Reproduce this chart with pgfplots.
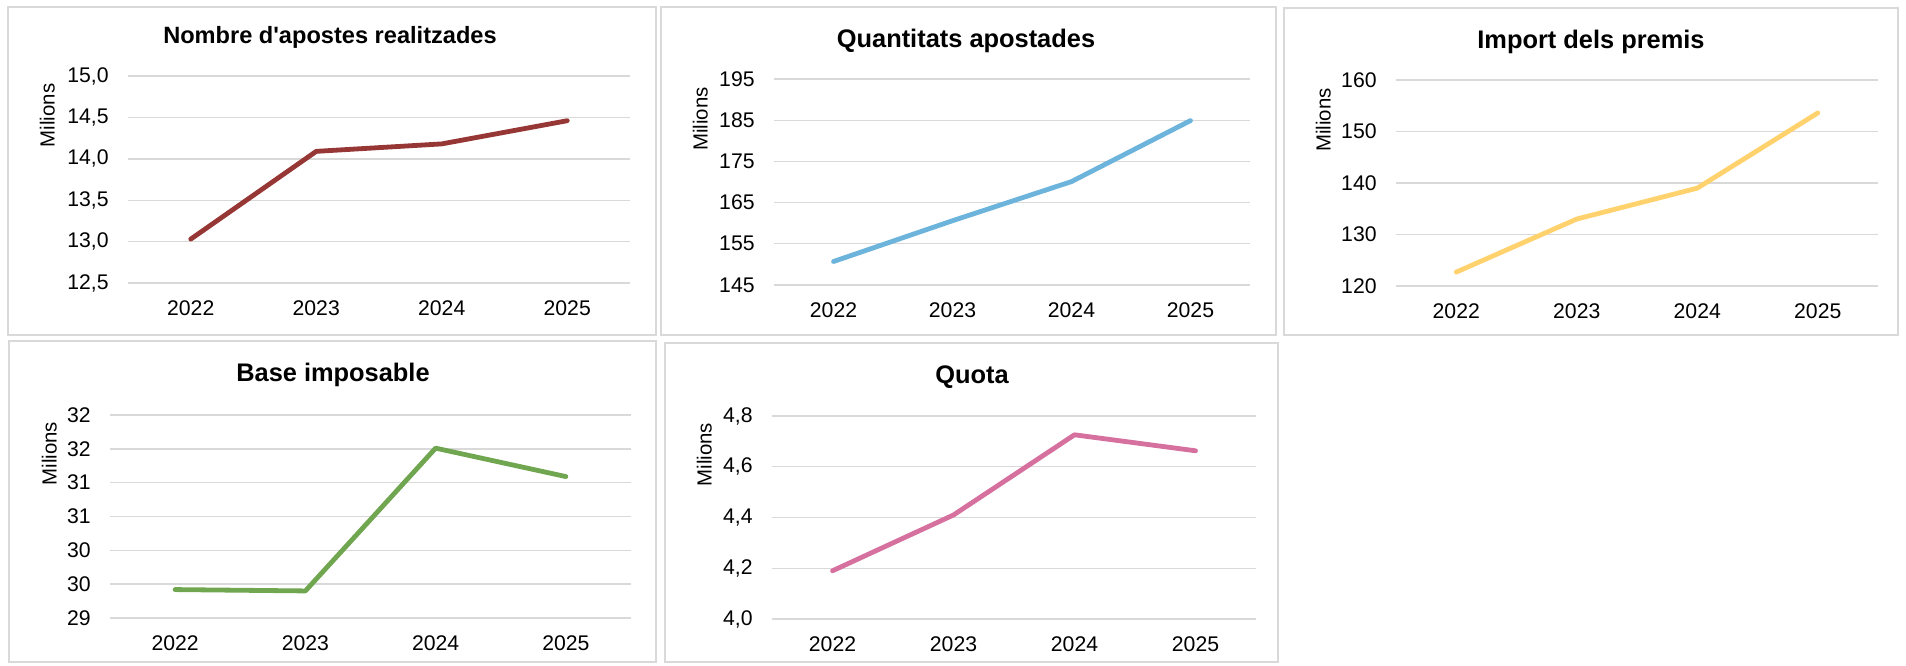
\documentclass[border=0pt]{standalone}
\usepackage{fontspec}
\setmainfont{Liberation Sans}
\usepackage{pgfplots}
\pgfplotsset{compat=1.18}

\definecolor{cRed}{RGB}{150,55,53}
\definecolor{cBlue}{RGB}{108,180,220}
\definecolor{cYellow}{RGB}{255,210,110}
\definecolor{cGreen}{RGB}{112,166,80}
\definecolor{cPink}{RGB}{214,112,158}
\definecolor{gridgray}{RGB}{217,217,217}
\definecolor{framegray}{RGB}{217,217,217}

\pgfplotsset{
  panel/.style={
    scale only axis, anchor=south west, clip=false,
    xmin=0.5, xmax=4.5, xtick={1,2,3,4}, xticklabels={2022,2023,2024,2025},
    axis line style={draw=none}, major tick length=0pt,
    ymajorgrids, grid style={gridgray, line width=0.7pt},
    tick label style={font=\fontsize{10.6}{12}\selectfont, inner sep=0pt},
    xticklabel style={anchor=north, yshift=-8.5pt},
    yticklabel style={anchor=east, xshift=-9.5pt},
    ylabel={Milions},
  },
  ylab/.style 2 args={
    every axis y label/.style={at={([xshift=#1]axis description cs:0,#2)},
      rotate=90, anchor=south, inner sep=0pt, font=\fontsize{10.2}{12}\selectfont},
  },
  serie/.style={line width=2.4pt, line join=round, line cap=round, #1},
}
\newcommand{\ptitle}[2][12.7]{\bfseries\fontsize{#1}{14}\selectfont #2}

\begin{document}
\begin{tikzpicture}
\path (0,0) rectangle (953pt,332.5pt);
% panel frames
\draw[framegray, line width=0.75pt] (4pt,165pt) rectangle (328pt,329pt);
\draw[framegray, line width=0.75pt] (330.5pt,165pt) rectangle (638pt,329pt);
\draw[framegray, line width=0.75pt] (642pt,165pt) rectangle (949pt,328.5pt);
\draw[framegray, line width=0.75pt] (4.5pt,1.5pt) rectangle (328pt,162pt);
\draw[framegray, line width=0.75pt] (332.5pt,1.5pt) rectangle (639pt,161pt);
% titles
\node[anchor=base, inner sep=0pt] at (165pt,310.8pt) {\ptitle[11.8]{Nombre d\textquotesingle apostes realitzades}};
\node[anchor=base, inner sep=0pt] at (483pt,308.7pt) {\ptitle{Quantitats apostades}};
\node[anchor=base, inner sep=0pt] at (795.5pt,308pt) {\ptitle{Import dels premis}};
\node[anchor=base, inner sep=0pt] at (166.5pt,141.7pt) {\ptitle{Base imposable}};
\node[anchor=base, inner sep=0pt] at (486pt,140.8pt) {\ptitle{Quota}};

% Nombre d'apostes realitzades
\begin{axis}[panel, ylab={-36.4pt}{0.81}, at={(64pt,191pt)}, width=251pt, height=103.5pt,
  ymin=12.5, ymax=15, ytick={12.5,13,13.5,14,14.5,15},
  yticklabels={{12,5},{13,0},{13,5},{14,0},{14,5},{15,0}}]
\addplot[serie=cRed] coordinates {(1,13.03) (2,14.09) (3,14.18) (4,14.46)};
\end{axis}

% Quantitats apostades
\begin{axis}[panel, ylab={-32.9pt}{0.806}, at={(387pt,190pt)}, width=238pt, height=103pt,
  ymin=145, ymax=195, ytick={145,155,165,175,185,195},
  yticklabels={145,155,165,175,185,195}]
\addplot[serie=cBlue] coordinates {(1,150.7) (2,160.6) (3,170.1) (4,184.9)};
\end{axis}

% Import dels premis
\begin{axis}[panel, ylab={-32.4pt}{0.806}, at={(698pt,189.5pt)}, width=241pt, height=103pt,
  ymin=120, ymax=160, ytick={120,130,140,150,160},
  yticklabels={120,130,140,150,160}]
\addplot[serie=cYellow] coordinates {(1,122.7) (2,133.0) (3,139.0) (4,153.6)};
\end{axis}

% Base imposable
\begin{axis}[panel, ylab={-26.4pt}{0.81}, at={(55pt,23.5pt)}, width=260.5pt, height=101.5pt,
  ymin=29, ymax=32, ytick={29,29.5,30,30.5,31,31.5,32},
  yticklabels={29,30,30,31,31,32,32}]
\addplot[serie=cGreen] coordinates {(1,29.42) (2,29.40) (3,31.51) (4,31.09)};
\end{axis}

% Quota
\begin{axis}[panel, ylab={-29.9pt}{0.81}, at={(386pt,23pt)}, width=242pt, height=101.5pt,
  ymin=4.0, ymax=4.8, ytick={4.0,4.2,4.4,4.6,4.8},
  yticklabels={{4,0},{4,2},{4,4},{4,6},{4,8}}]
\addplot[serie=cPink] coordinates {(1,4.19) (2,4.41) (3,4.726) (4,4.663)};
\end{axis}
\end{tikzpicture}
\end{document}
